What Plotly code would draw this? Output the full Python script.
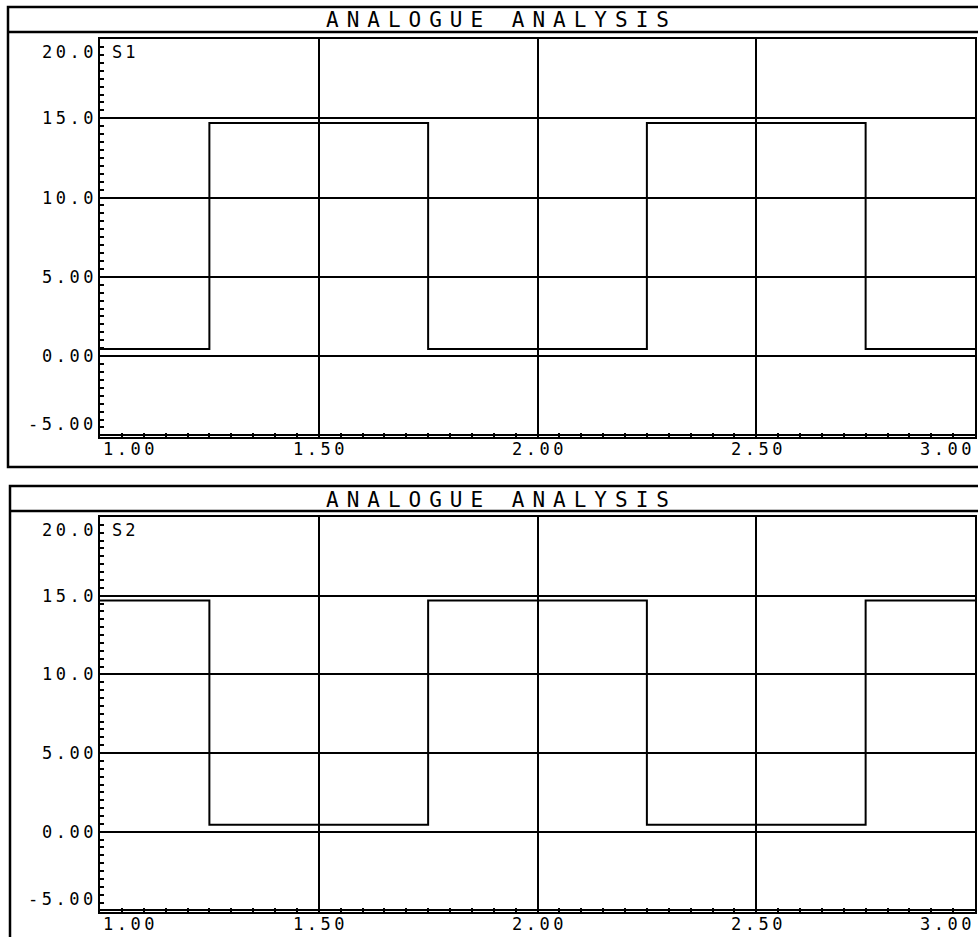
import plotly.graph_objects as go

# ---- data ----
time_points = [1.0, 1.25, 1.75, 2.25, 2.75, 3.0]
s1_values = [0.45, 14.7, 0.45, 14.7, 0.45, 0.45]
s2_values = [14.7, 0.45, 14.7, 0.45, 14.7, 14.7]
series_names = ["S1", "S2"]
x_tick_vals = [1.0, 1.5, 2.0, 2.5, 3.0]
x_tick_text = ["1.00", "1.50", "2.00", "2.50", "3.00"]
y_tick_vals = [20, 15, 10, 5, 0, -5]
y_tick_text = ["20.0", "15.0", "10.0", "5.00", "0.00", "-5.00"]
title_text = "ANALOGUE ANALYSIS"

W, H = 978, 937
FONT = "DejaVu Sans Mono"


def px(x):
    return x / W


def py(y):
    return 1 - y / H


fig = go.Figure()

panels = [
    # (series values, plot top px, plot bottom px, frame top, separator, frame bottom, frame left)
    (s1_values, 39, 437, 7, 32, 467, 8),
    (s2_values, 517, 912, 486, 511, 945, 10),
]

for i, (vals, top, bot, ftop, fsep, fbot, fleft) in enumerate(panels):
    n = i + 1
    xa = "x" if n == 1 else f"x{n}"
    ya = "y" if n == 1 else f"y{n}"
    fig.add_trace(go.Scatter(
        x=time_points, y=vals, mode="lines", line_shape="hv",
        line=dict(color="black", width=2), xaxis=xa, yaxis=ya,
        showlegend=False, hoverinfo="skip", name=series_names[i]))

    axis_common = dict(showline=True, mirror=True, linecolor="black", linewidth=2,
                       showgrid=True, gridcolor="black", gridwidth=2,
                       zeroline=False, showticklabels=False,
                       ticks="inside", ticklen=4, tickwidth=2, tickcolor="black")
    fig.layout[f"xaxis{'' if n == 1 else n}"] = dict(
        axis_common, domain=[px(100), px(975)], range=[1.0, 3.0],
        tickvals=x_tick_vals, anchor=ya,
        minor=dict(ticks="inside", dtick=0.05, ticklen=4, tickwidth=2,
                   tickcolor="black", showgrid=False))
    fig.layout[f"yaxis{'' if n == 1 else n}"] = dict(
        axis_common, domain=[py(bot), py(top)], range=[-5.1, 20.0],
        tickvals=y_tick_vals, anchor=xa,
        minor=dict(ticks="inside", dtick=0.5, ticklen=4, tickwidth=2,
                   tickcolor="black", showgrid=False))

    # outer frame and title separator
    fig.add_shape(type="rect", xref="paper", yref="paper",
                  x0=px(fleft), x1=1.02, y0=py(fbot), y1=py(ftop),
                  line=dict(color="black", width=2.5), fillcolor="rgba(0,0,0,0)")
    fig.add_shape(type="line", xref="paper", yref="paper",
                  x0=px(fleft), x1=1.02, y0=py(fsep), y1=py(fsep),
                  line=dict(color="black", width=2.5))

    # title
    fig.add_annotation(
        xref="paper", yref="paper", x=px(501), y=py((ftop + fsep) / 2 + 1),
        text=f'<span style="letter-spacing:8px">{title_text}</span>',
        showarrow=False, xanchor="center", yanchor="middle",
        font=dict(family=FONT, size=21, color="black"))

    # series label
    fig.add_annotation(
        xref="paper", yref=ya, x=px(110), y=20, yshift=-13,
        text=f'<span style="letter-spacing:3px">{series_names[i]}</span>',
        showarrow=False, xanchor="left", yanchor="middle",
        font=dict(family=FONT, size=17, color="black"))

    # y tick labels
    for v, t in zip(y_tick_vals, y_tick_text):
        shift = 0
        if v == 20:
            shift = -13
        elif v == -5:
            shift = 11
        fig.add_annotation(
            xref="paper", yref=ya, x=px(99), y=v, yshift=shift,
            text=f'<span style="letter-spacing:3.5px">{t}</span>',
            showarrow=False, xanchor="right", yanchor="middle",
            font=dict(family=FONT, size=17, color="black"))

    # x tick labels
    for j, (v, t) in enumerate(zip(x_tick_vals, x_tick_text)):
        anchor = "center"
        xs = 2
        if j == 0:
            anchor = "left"
            xs = 1
        elif j == len(x_tick_vals) - 1:
            anchor = "right"
            xs = 2
        fig.add_annotation(
            xref=xa, yref="paper", x=v, y=py(bot + 12),
            text=f'<span style="letter-spacing:3.5px">{t}</span>',
            showarrow=False, xanchor=anchor, yanchor="middle",
            xshift=xs,
            font=dict(family=FONT, size=17, color="black"))

fig.update_layout(
    width=W, height=H,
    margin=dict(l=0, r=0, t=0, b=0),
    paper_bgcolor="white", plot_bgcolor="white",
    showlegend=False,
)

fig.write_html("out.html",
               config={"displayModeBar": False},
               post_script="document.body.style.margin='0';document.body.style.overflow='hidden';")
